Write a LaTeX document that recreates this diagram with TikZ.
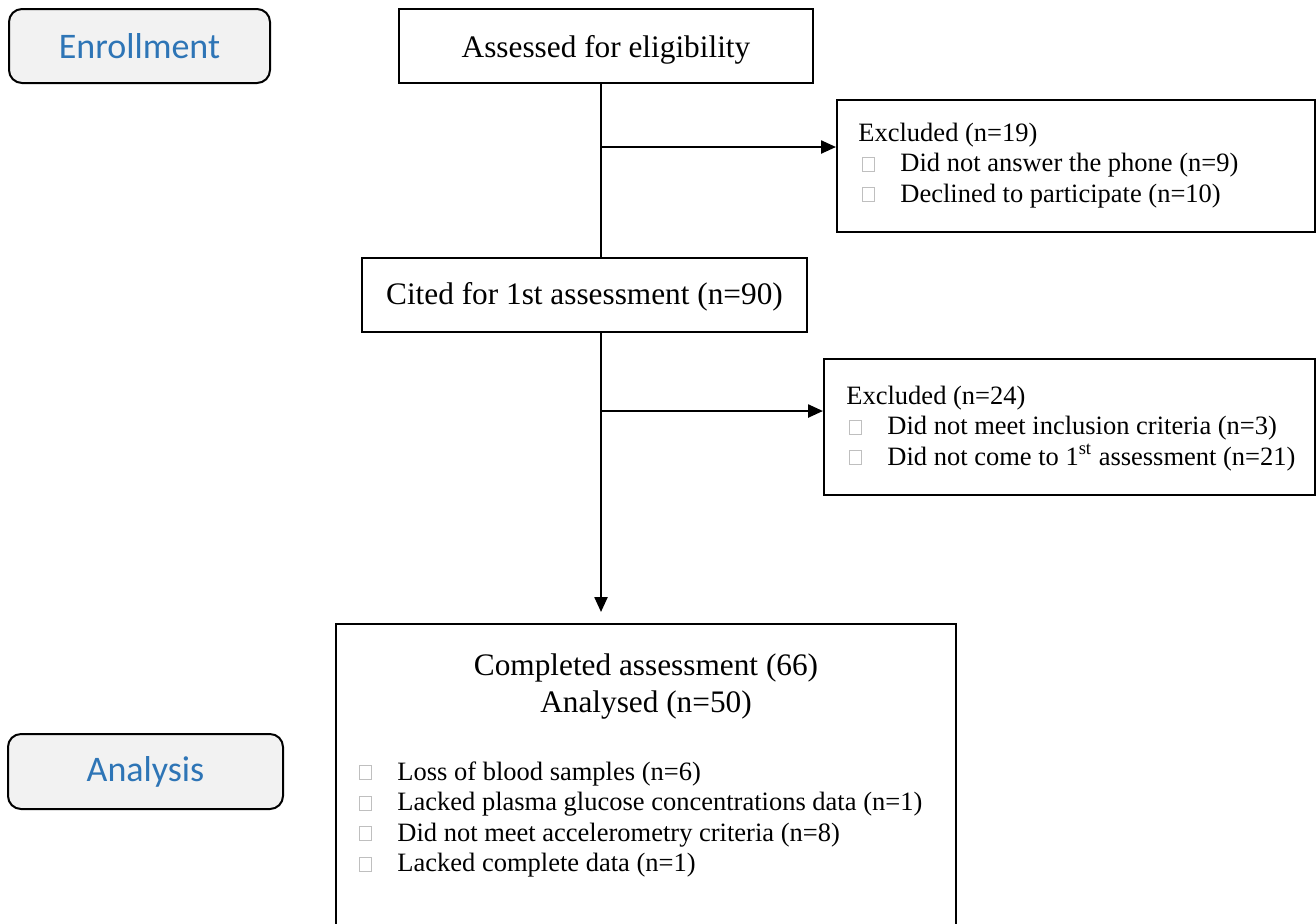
\documentclass[tikz,border=0pt]{standalone}
\usepackage{fontspec}
\setmainfont{Liberation Serif}
\newfontfamily\labelfont{Carlito}
\usetikzlibrary{arrows.meta}
\definecolor{stagefill}{HTML}{F2F2F2}
\definecolor{stageblue}{HTML}{2E75B6}
\definecolor{glyphgray}{HTML}{BFBFBF}
% hollow square standing in for a bullet glyph
\newcommand\emptyglyph{\raisebox{0.3pt}{\color{glyphgray}\setlength\fboxrule{0.5pt}\setlength\fboxsep{0pt}\fbox{\rule{0pt}{6.5pt}\hspace{5.5pt}}}}
\newcommand\bulletline[1]{\makebox[19pt][l]{\emptyglyph}#1}
\begin{document}
\begin{tikzpicture}[x=0.5pt,y=-0.5pt,
  stage/.style={draw=black, line width=1pt, fill=stagefill, rounded corners=6.5pt, inner sep=0pt},
  stagetext/.style={font=\labelfont\fontsize{18}{21}\selectfont, text=stageblue, inner sep=0pt},
  flowbox/.style={draw=black, line width=1pt, inner sep=0pt},
  big/.style={font=\fontsize{15.65}{18}\selectfont, inner sep=0pt, anchor=base},
  small/.style={font=\fontsize{13.25}{15}\selectfont, inner sep=0pt, anchor=base west},
  flow/.style={line width=1.2pt},
  arr/.style={flow, -{Triangle[length=7.5pt,width=6.5pt]}}]
\clip (0,0) rectangle (1316,923);

% stage labels
\node[stage, minimum width=130.5pt, minimum height=37pt] (enr) at (139.5,46) {};
\node[stagetext] (enrt) at (enr.center) {Enrollment};
\node[stage, minimum width=137.5pt, minimum height=37.5pt] (ana) at (145.5,771.5) {};
\node[stagetext] (anat) at (ana.center) {Analysis};

% main flow boxes
\node[flowbox, minimum width=207pt, minimum height=37pt] (ass) at (606,46) {};
\node[big] (asst) at (606,57) {Assessed for eligibility};
\node[flowbox, minimum width=222.5pt, minimum height=37pt] (cit) at (584.5,295) {};
\node[big] (citt) at (584.5,304) {Cited for 1st assessment (n=90)};
\node[flowbox, minimum width=310pt, minimum height=153pt] (fin) at (646,777) {};
\node[big] (fint) at (646,675) {Completed assessment (66)};
\node[big] (fina) at (646,712) {Analysed (n=50)};
\node[small] (fin1) at (359,780) {\bulletline{Loss of blood samples (n=6)}};
\node[small] (fin2) at (359,810.5) {\bulletline{Lacked plasma glucose concentrations data (n=1)}};
\node[small] (fin3) at (359,841) {\bulletline{Did not meet accelerometry criteria (n=8)}};
\node[small] (fin4) at (359,871.5) {\bulletline{Lacked complete data (n=1)}};

% exclusion boxes
\node[flowbox, minimum width=239pt, minimum height=66pt] (ex1) at (1076,166) {};
\node[small] (ex1t) at (858,141) {Excluded (n=19)};
\node[small] (ex1a) at (862,171.5) {\bulletline{Did not answer the phone (n=9)}};
\node[small] (ex1b) at (862,202) {\bulletline{Declined to participate (n=10)}};
\node[flowbox, minimum width=245.5pt, minimum height=68pt] (ex2) at (1069.5,427) {};
\node[small] (ex2t) at (846,404) {Excluded (n=24)};
\node[small] (ex2a) at (849,434.5) {\bulletline{Did not meet inclusion criteria (n=3)}};
\node[small] (ex2b) at (849,465) {\bulletline{Did not come to 1\textsuperscript{st} assessment (n=21)}};

% connectors
\coordinate (trunk) at (601,0);
\coordinate (fork1) at (601,147);
\coordinate (fork2) at (601,411);
\draw[flow] (trunk |- ass.south) -- (trunk |- cit.north);
\draw[arr] (fork1) -- (fork1 -| ex1.west);
\draw[arr, shorten >=5.5pt] (trunk |- cit.south) -- (trunk |- fin.north);
\draw[arr] (fork2) -- (fork2 -| ex2.west);
\end{tikzpicture}
\end{document}
